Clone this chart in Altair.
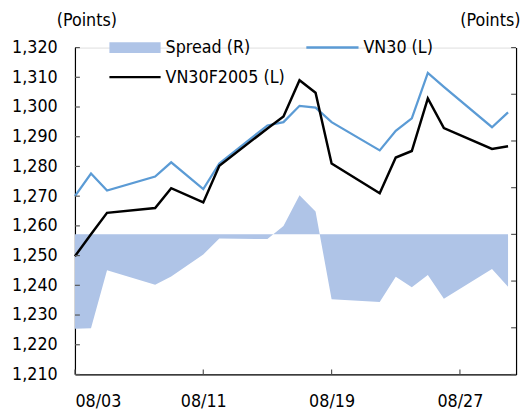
import altair as alt
import pandas as pd

dates = ["2020-08-03", "2020-08-04", "2020-08-05", "2020-08-08", "2020-08-09",
         "2020-08-11", "2020-08-12", "2020-08-15", "2020-08-16", "2020-08-17",
         "2020-08-18", "2020-08-19", "2020-08-22", "2020-08-23", "2020-08-24",
         "2020-08-25", "2020-08-26", "2020-08-29", "2020-08-30"]
vn30 = [1270.0, 1277.6, 1271.9, 1276.6, 1281.4, 1272.4, 1281.0, 1293.8, 1294.9, 1300.4,
        1299.8, 1294.9, 1285.4, 1292.0, 1296.2, 1311.5, 1306.8, 1293.2, 1298.2]
vn30f = [1249.8, 1257.2, 1264.4, 1266.0, 1272.7, 1267.9, 1280.2, 1292.8, 1296.8, 1309.0,
         1304.8, 1281.0, 1271.0, 1283.0, 1285.2, 1302.9, 1292.9, 1285.9, 1286.8]
spread = [-20.2, -20.1, -7.7, -10.8, -9.0, -4.3, -0.9, -1.0, 1.8, 8.4,
          4.9, -13.9, -14.5, -9.1, -11.3, -8.7, -13.8, -7.4, -11.2]

left_ticks = list(range(1210, 1321, 10))
right_ticks = list(range(-30, 41, 10))
x_ticks = ["2020-08-03", "2020-08-11", "2020-08-19", "2020-08-27"]

FONT = "DejaVu Sans Condensed"
FS = 18
BLUE = "#5B9BD5"
AREA = "#AFC4E7"

df = pd.DataFrame({
    "date": [d + "T00:00:00" for d in dates],
    "VN30": vn30, "VN30F2005": vn30f, "Spread": spread, "zero": [0] * len(dates),
})
lt = pd.DataFrame({"lv": left_ticks})
rt = pd.DataFrame({"rv": right_ticks})
xt = pd.DataFrame({"date": [d + "T00:00:00" for d in x_ticks]})

def dt(s, h=0):
    y, m, d = s.split("-")
    return alt.DateTime(year=int(y), month=int(m), date=int(d), hours=h)

xscale = alt.Scale(domain=[dt("2020-08-03"), dt("2020-08-30", 12)])
xaxis = alt.Axis(format="%m/%d", values=[dt(s) for s in x_ticks], ticks=False, tickSize=0,
                 labelPadding=19, domainColor="#000000", domainWidth=1.2, grid=False,
                 labelFont=FONT, labelFontSize=FS, labelColor="#000000", title=None)
X = alt.X("date:T", scale=xscale, axis=xaxis, title=None)

lscale = alt.Scale(domain=[1210, 1320], nice=False, zero=False)
rscale = alt.Scale(domain=[-30, 40], nice=False, zero=False)

laxis = alt.Axis(orient="left", values=left_ticks, format=",.0f", ticks=False, tickSize=0,
                 labelPadding=18, grid=False, domainColor="#000000", domainWidth=1.2,
                 labelFont=FONT, labelFontSize=FS, labelColor="#000000",
                 title="(Points)", titleAngle=0, titleAlign="left", titleBaseline="middle",
                 titleX=-19, titleY=-27, titleFont=FONT, titleFontSize=FS,
                 titleFontWeight="normal", titleColor="#000000")
raxis = alt.Axis(orient="right", values=right_ticks, labels=False, ticks=False,
                 tickSize=0, grid=False, domainColor="#000000", domainWidth=1.2,
                 title="(Points)", titleAngle=0, titleAlign="right", titleBaseline="middle",
                 titleX=4, titleY=-27, titleFont=FONT, titleFontSize=FS,
                 titleFontWeight="normal", titleColor="#000000")

base = alt.Chart(df)

area = base.mark_area(color=AREA, opacity=1).encode(
    x=X,
    y=alt.Y("Spread:Q", scale=rscale, axis=raxis, title="(Points)"),
    y2="zero:Q",
)
rticks = alt.Chart(rt).mark_rule(color="#555555", strokeWidth=1.2).encode(
    y=alt.Y("rv:Q", scale=rscale, axis=raxis, title="(Points)"),
    x=alt.value(443), x2=alt.value(448),
)
right_group = alt.layer(area, rticks)

l_vn30 = base.mark_line(color=BLUE, strokeWidth=2.3).encode(
    x=X, y=alt.Y("VN30:Q", scale=lscale, axis=laxis, title="(Points)"),
)
l_f = base.mark_line(color="#000000", strokeWidth=2.5).encode(
    x=X, y=alt.Y("VN30F2005:Q", scale=lscale, axis=laxis, title="(Points)"),
)
lticks = alt.Chart(lt).mark_rule(color="#555555", strokeWidth=1.2).encode(
    y=alt.Y("lv:Q", scale=lscale, axis=laxis, title="(Points)"),
    x=alt.value(0), x2=alt.value(5),
)
xticks = alt.Chart(xt).mark_rule(color="#555555", strokeWidth=1.2).encode(
    x=X, y=alt.value(327), y2=alt.value(332),
)

# legend
leg_area = alt.Chart(df.head(1)).mark_rule(color=AREA, strokeWidth=11).encode(
    x=alt.value(35), x2=alt.value(87), y=alt.value(0))
leg_vn30 = alt.Chart(df.head(1)).mark_rule(color=BLUE, strokeWidth=2.5).encode(
    x=alt.value(235), x2=alt.value(288), y=alt.value(0))
leg_f = alt.Chart(df.head(1)).mark_rule(color="#000000", strokeWidth=2.5).encode(
    x=alt.value(35), x2=alt.value(87), y=alt.value(30))
def leg_text(t, x, y):
    return alt.Chart(df.head(1)).mark_text(text=t, align="left", baseline="middle", font=FONT,
                                           fontSize=FS, color="#000000").encode(
        x=alt.value(x), y=alt.value(y))
legend = alt.layer(leg_area, leg_vn30, leg_f,
                   leg_text("Spread (R)", 92, 1), leg_text("VN30 (L)", 293, 1),
                   leg_text("VN30F2005 (L)", 92, 31))

left_group = alt.layer(l_vn30, l_f, lticks, xticks, legend)

chart = alt.layer(right_group, left_group).resolve_scale(y="independent").properties(
    width=448, height=332,
    autosize=alt.AutoSizeParams(type="none"),
    padding={"left": 68, "top": 37, "right": 4, "bottom": 40},
).configure_view(stroke=None).configure(background="white")

chart.save("out.html", embed_options={"renderer": "svg", "actions": False})
